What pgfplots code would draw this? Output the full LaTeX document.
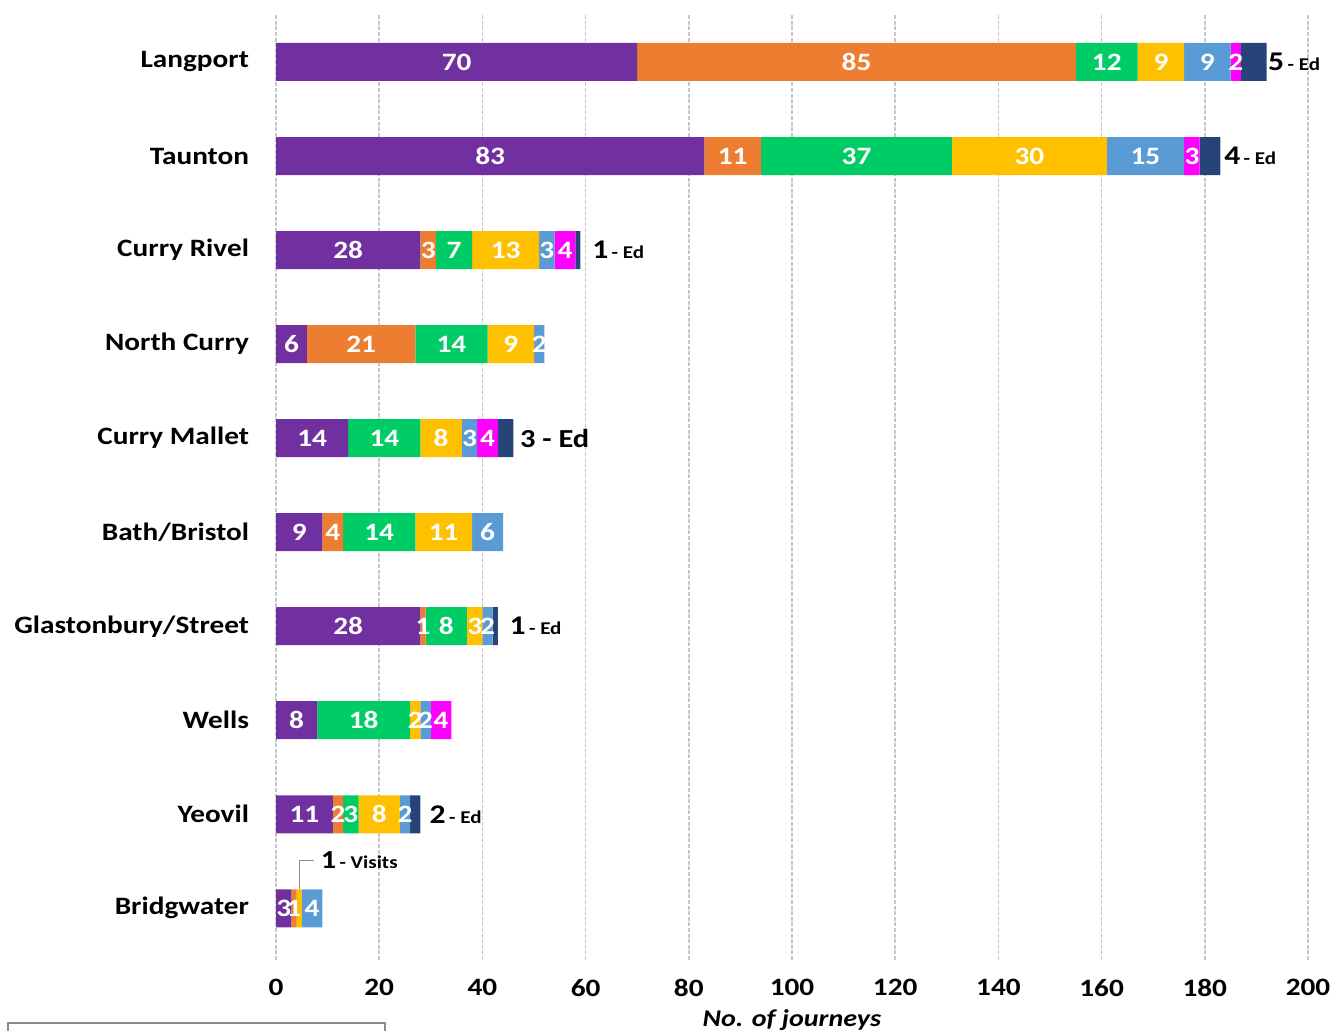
\documentclass[border=0pt]{standalone}
\usepackage{fontspec}
\setmainfont{Carlito}[FakeStretch=1.17]
\usepackage{pgfplots}
\usepackage{pgfplotstable}
\pgfplotsset{compat=1.18}
\definecolor{cPur}{HTML}{7030A0}
\definecolor{cOra}{HTML}{ED7D31}
\definecolor{cGre}{HTML}{00CC66}
\definecolor{cYel}{HTML}{FFC000}
\definecolor{cBlu}{HTML}{5B9BD5}
\definecolor{cMag}{HTML}{FF00FF}
\definecolor{cNav}{HTML}{264478}
\DeclareRobustCommand\ED[1]{{\fontsize{13.5}{16}\selectfont #1}\,{\fontsize{9}{10}\selectfont - Ed}}
\DeclareRobustCommand\EDb[1]{{\fontsize{13}{16}\selectfont #1 - Ed}}
% rows: 0 Bridgwater ... 9 Langport
\pgfplotstableread{
y x lab
0 3 3
1 11 11
2 8 8
3 28 28
4 9 9
5 14 14
6 6 6
7 28 28
8 83 83
9 70 70
}\tPur
\pgfplotstableread{
y x lab
0 1 1
1 2 2
2 0 {}
3 1 1
4 4 4
5 0 {}
6 21 21
7 3 3
8 11 11
9 85 85
}\tOra
\pgfplotstableread{
y x lab
0 0 {}
1 3 3
2 18 18
3 8 8
4 14 14
5 14 14
6 14 14
7 7 7
8 37 37
9 12 12
}\tGre
\pgfplotstableread{
y x lab
0 1 {}
1 8 8
2 2 2
3 3 3
4 11 11
5 8 8
6 9 9
7 13 13
8 30 30
9 9 9
}\tYel
\pgfplotstableread{
y x lab
0 4 4
1 2 2
2 2 2
3 2 2
4 6 6
5 3 3
6 2 2
7 3 3
8 15 15
9 9 9
}\tBlu
\pgfplotstableread{
y x lab
0 0 {}
1 0 {}
2 4 4
3 0 {}
4 0 {}
5 4 4
6 0 {}
7 4 4
8 3 3
9 2 2
}\tMag
\pgfplotstableread{
y x lab
0 0 {}
1 2 {\ED{2}}
2 0 {}
3 1 {\ED{1}}
4 0 {}
5 3 {\EDb{3}}
6 0 {}
7 1 {\ED{1}}
8 4 {\ED{4}}
9 5 {\ED{5}}
}\tNav
\pgfplotsset{
  inlab/.style={point meta=explicit symbolic, nodes near coords,
    every node near coord/.style={anchor=center, text=white,
      font=\bfseries\fontsize{12.5}{14}\selectfont}},
  outlab/.style={point meta=explicit symbolic, nodes near coords,
    every node near coord/.style={anchor=west, text=black,
      font=\bfseries, inner sep=2pt, xshift=5pt}},
}
\begin{document}
\begin{tikzpicture}
\begin{axis}[
  at={(138pt,-480pt)}, anchor=south west,
  scale only axis, width=516pt, height=472.5pt,
  xbar stacked, bar width=19pt,
  xmin=0, xmax=200, ymin=-0.55, ymax=9.5,
  xtick={0,20,...,200},
  ytick={0,...,9},
  yticklabels={Bridgwater,Yeovil,Wells,Glastonbury/Street,Bath/Bristol,Curry Mallet,North Curry,Curry Rivel,Taunton,Langport},
  axis line style={draw=none},
  tick style={draw=none},
  xmajorgrids, grid style={black!22, line width=0.8pt, dash pattern=on 2pt off 0.8pt},
  tick label style={font=\bfseries\fontsize{12.5}{14}\selectfont},
  /pgf/number format/assume math mode=true,
  yticklabel style={xshift=-10pt},
  xticklabel style={yshift=-6pt},
  xlabel={\bfseries\itshape No. of journeys},
  xlabel style={at={(axis description cs:0.5,-0.0635)}, anchor=center, font=\fontsize{12}{14}\selectfont},
]
\addplot[fill=cPur, draw=none, inlab] table[x=x, y=y, meta=lab] {\tPur};
\addplot[fill=cOra, draw=none, inlab] table[x=x, y=y, meta=lab] {\tOra};
\addplot[fill=cGre, draw=none, inlab] table[x=x, y=y, meta=lab] {\tGre};
\addplot[fill=cYel, draw=none, inlab] table[x=x, y=y, meta=lab] {\tYel};
\addplot[fill=cBlu, draw=none, inlab] table[x=x, y=y, meta=lab] {\tBlu};
\addplot[fill=cMag, draw=none, inlab] table[x=x, y=y, meta=lab] {\tMag};
\addplot[fill=cNav, draw=none, outlab] table[x=x, y=y, meta=lab] {\tNav};
% label of the zero-width orange segment of Curry Mallet
\node[anchor=east, inner sep=0.5pt, text=white, font=\bfseries\fontsize{12.5}{14}\selectfont] at (axis cs:14,5) {0};
% callout for Bridgwater visits
\draw[black!45, line width=0.6pt] (axis cs:4.5,0.2) -- (axis cs:4.5,0.51) -- (axis cs:7.4,0.51)
  node[anchor=west, inner sep=3pt, font=\bfseries, text=black] {{\fontsize{13}{15}\selectfont 1}\,{\fontsize{9}{10}\selectfont - Visits}};
\end{axis}
\draw[black!45, line width=0.6pt] (4pt,-511.5pt) rectangle (192.5pt,-522pt);
\pgfresetboundingbox
\path[use as bounding box] (0,0) rectangle (665.5pt,-515.5pt);
\end{tikzpicture}
\end{document}
